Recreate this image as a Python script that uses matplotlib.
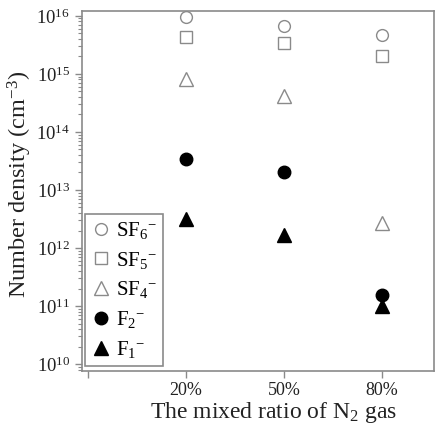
import matplotlib
matplotlib.use("Agg")
import matplotlib.pyplot as plt
import numpy as np

plt.rcParams['font.family'] = ['Liberation Serif', 'DejaVu Serif']
plt.rcParams['mathtext.fontset'] = 'custom'
plt.rcParams['mathtext.rm'] = 'Liberation Serif'
plt.rcParams['mathtext.it'] = 'Liberation Serif:italic'

# data
ratios = ['20%', '50%', '80%']
sf6 = [9.5e15, 6.7e15, 4.7e15]
sf5 = [4.4e15, 3.4e15, 2.0e15]
sf4 = [8.2e14, 4.2e14, 2.7e12]
f2 = [3.4e13, 2.0e13, 1.55e11]
f1 = [3.1e12, 1.65e12, 1.0e11]

grey = '#8a8a8a'
xpos = np.arange(1, len(ratios) + 1)

fig = plt.figure(figsize=(4.36, 4.32), dpi=100)
ax = fig.add_axes([0.188, 0.141, 0.807, 0.834])

ax.plot(xpos, sf6, 'o', ms=8.5, mfc='none', mec=grey, mew=1.0, label='SF$_6{}^{-}$')
ax.plot(xpos, sf5, 's', ms=8.5, mfc='none', mec=grey, mew=1.0, label='SF$_5{}^{-}$')
ax.plot(xpos, sf4, '^', ms=9.5, mfc='none', mec=grey, mew=1.0, label='SF$_4{}^{-}$')
ax.plot(xpos, f2, 'o', ms=9, color='black', label='F$_2{}^{-}$')
ax.plot(xpos, f1, '^', ms=9.5, color='black', label='F$_1{}^{-}$')

ax.set_yscale('log')
ax.set_ylim(10 ** (10 - 7 / 58), 10 ** (16 + 5 / 58))
ax.set_xlim(-0.061, 3.53)
ax.set_yticks([1e10, 1e11, 1e12, 1e13, 1e14, 1e15, 1e16])
ax.set_xticks([0, 1, 2, 3])
ax.set_xticklabels([''] + ratios)

for s in ax.spines.values():
    s.set_color(grey)
    s.set_linewidth(1.2)
ax.tick_params(axis='both', which='major', colors=grey, length=5, width=1.0,
               labelsize=13.5, labelcolor='#222222')
ax.tick_params(axis='x', pad=3, labelsize=13)
ax.tick_params(axis='y', which='minor', colors=grey, length=3, width=0.8)

ax.set_ylabel('Number density (cm$^{-3}$)', fontsize=17.5, color='#222222')
ax.yaxis.set_label_coords(-0.135, 0.517)
ax.set_xlabel('The mixed ratio of N$_2$ gas', fontsize=17, color='#222222')
ax.xaxis.set_label_coords(0.545, -0.08)

leg = ax.legend(loc='lower left', bbox_to_anchor=(0.008, 0.014), fontsize=15,
                frameon=True, fancybox=False, edgecolor=grey, framealpha=1,
                handletextpad=0.2, labelspacing=0.42, borderpad=0.3,
                handlelength=1.0, borderaxespad=0)
leg.get_frame().set_linewidth(1.2)

fig.savefig('out.png', dpi=100)
